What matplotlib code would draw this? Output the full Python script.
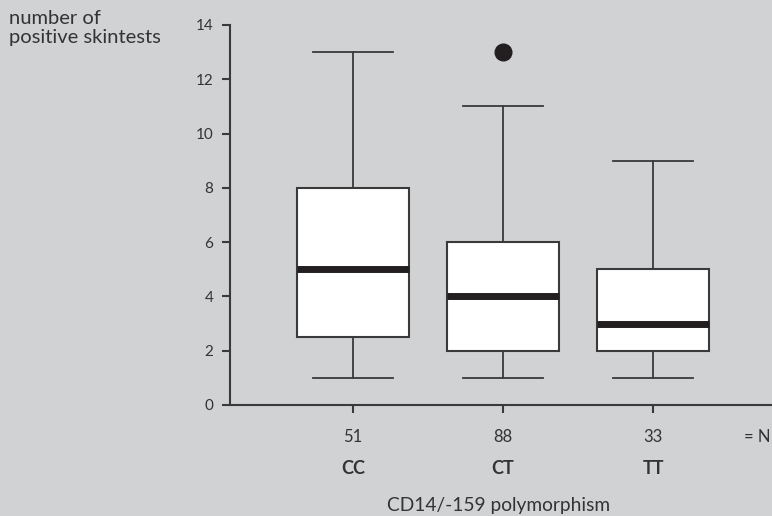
import matplotlib
matplotlib.use("Agg")
import matplotlib.pyplot as plt

# data
groups = ["CC", "CT", "TT"]
n_counts = ["51", "88", "33"]
q1 = [2.5, 2, 2]
medians = [5, 4, 3]
q3 = [8, 6, 5]
whisker_low = [1, 1, 1]
whisker_high = [13, 11, 9]
outliers = [[], [13], []]
y_ticks = [0, 2, 4, 6, 8, 10, 12, 14]

bg = "#d1d2d4"
line_c = "#3a3a3a"
plt.rcParams['font.family'] = ['Lato', 'DejaVu Sans']

fig = plt.figure(figsize=(7.72, 5.16), dpi=100, facecolor=bg)
ax = fig.add_axes([230/772, 1-405/516, 1-230/772, 380/516])
ax.set_facecolor(bg)

stats = []
for i in range(len(groups)):
    stats.append(dict(med=medians[i], q1=q1[i], q3=q3[i],
                      whislo=whisker_low[i], whishi=whisker_high[i],
                      fliers=outliers[i], label=groups[i]))

positions = list(range(1, len(groups)+1))
ax.bxp(stats, positions=positions, widths=0.747, capwidths=0.533,
       patch_artist=True, showfliers=True,
       boxprops=dict(facecolor="white", edgecolor=line_c, linewidth=1.5),
       medianprops=dict(color="#231f20", linewidth=5, solid_capstyle="butt"),
       whiskerprops=dict(color=line_c, linewidth=1.3),
       capprops=dict(color=line_c, linewidth=1.3),
       flierprops=dict(marker="o", markersize=12, markerfacecolor="#231f20",
                       markeredgecolor="#231f20"))

ax.set_xlim(0.18, 3.793)
ax.set_ylim(0, 14)
ax.set_yticks(y_ticks)
ax.set_yticklabels([str(t) for t in y_ticks], fontsize=11, color="#333333")
ax.set_xticks(positions)
ax.set_xticklabels([])
ax.tick_params(axis="y", direction="out", length=6, width=1.5, color=line_c, pad=6)
ax.tick_params(axis="x", direction="out", length=6, width=1.5, color=line_c)
for s in ["top", "right"]:
    ax.spines[s].set_visible(False)
for s in ["left", "bottom"]:
    ax.spines[s].set_color(line_c)
    ax.spines[s].set_linewidth(1.5)

tr = ax.get_xaxis_transform()
for p, n, g in zip(positions, n_counts, groups):
    ax.text(p, -0.084, n, transform=tr, ha="center", va="center", fontsize=12, color="#333333")
    ax.text(p, -0.166, g, transform=tr, ha="center", va="center", fontsize=13,
            fontweight="bold", color="#333333")
fig.text(770/772, 1-437/516, "= N", ha="right", va="center", fontsize=12, color="#333333")
fig.text(499/772, 1-505/516, "CD14/-159 polymorphism", ha="center", va="center",
         fontsize=13.8, color="#333333")
fig.text(9/772, 1-10/516, "number of\npositive skintests", ha="left", va="top",
         fontsize=14.5, color="#333333", linespacing=1.15)

fig.savefig("out.png", dpi=100, facecolor=bg)
